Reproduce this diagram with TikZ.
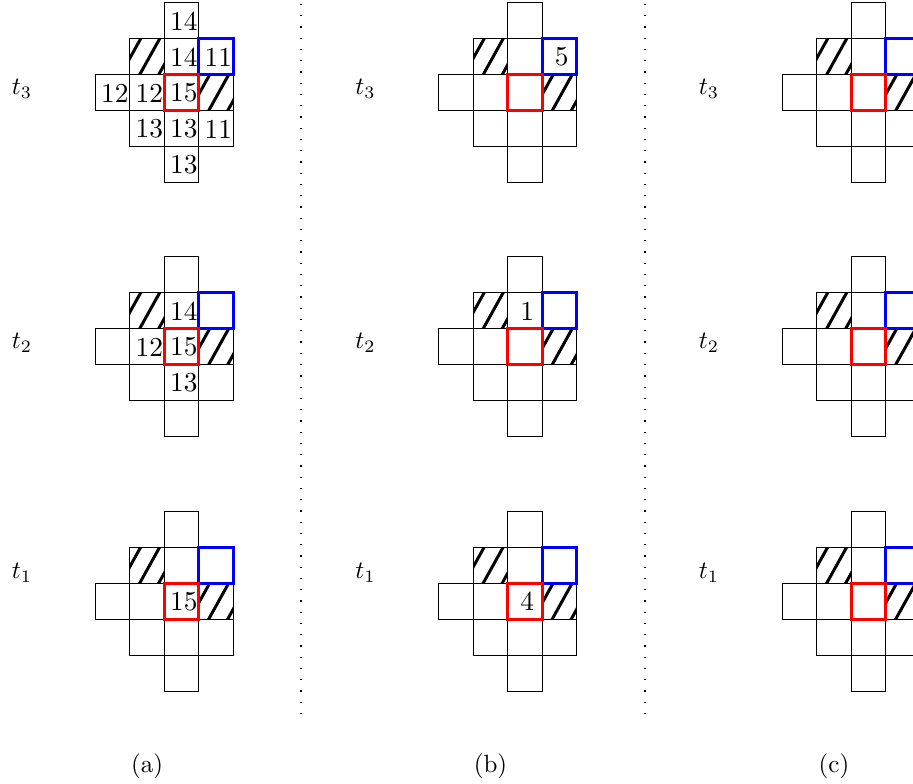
\documentclass[tikz,border=0pt]{standalone}
\usepackage{tikz}
\usetikzlibrary{positioning}
\newcommand{\cellw}{34.5}
\newcommand{\cellh}{36}
% one cross of twelve cells, drawn in local coordinates
\newcommand{\drawcross}{%
  \foreach \c/\r in {1/1,3/2}{
    \begin{scope}
      \clip (\c*\cellw,\r*\cellh) rectangle ++(\cellw,\cellh);
      \foreach \s in {11,30,49}
        \draw[hatch] (\c*\cellw+\s+10,\r*\cellh-18) -- ++(-40,72);
    \end{scope}
  }
  \foreach \c/\r in {2/0,1/1,2/1,3/1,0/2,1/2,2/2,3/2,1/3,2/3,3/3,2/4}
    \draw[cell] (\c*\cellw,\r*\cellh) rectangle ++(\cellw,\cellh);
  \draw[bluecell] (3*\cellw,\cellh) rectangle ++(\cellw,\cellh);
  \draw[redcell] (2*\cellw,2*\cellh) rectangle ++(\cellw,\cellh);
}
\begin{document}
\begin{tikzpicture}[x=0.4pt,y=-0.4pt,
  cell/.style={draw,line width=0.4pt},
  hatch/.style={line width=1.2pt},
  redcell/.style={draw=red,line width=1.2pt},
  bluecell/.style={draw=blue,line width=1.2pt},
  num/.style={inner sep=0pt,xshift=1pt,font=\fontsize{10.95}{13}\selectfont},
  tlab/.style={inner sep=0pt},
  divider/.style={loosely dotted,line width=0.5pt}]
\useasboundingbox (0,0) rectangle (913,784);
\clip (0,0) rectangle (913,784);

% panels (a), (b), (c) with rows t3, t2, t1
\foreach \px/\p in {95/a,438.5/b,782/c}{
  \foreach \py/\t/\ty in {3/3/89,257/2/343,511.5/1/573}{
    \begin{scope}[shift={(\px,\py)}]
      \drawcross
    \end{scope}
    \node[tlab] (t\t-\p) at (\px-73,\ty) {$t_\t$};
  }
  \node (cap-\p) at (\px+52,766) {(\p)};
}

% numbers in panel (a)
\begin{scope}[shift={(95,3)}]
  \foreach \c/\r/\v in {2/0/14,2/1/14,3/1/11,0/2/12,1/2/12,2/2/15,1/3/13,2/3/13,3/3/11,2/4/13}
    \node[num] (a3-\c\r) at (\c*\cellw+17.25,\r*\cellh+18) {\v};
\end{scope}
\begin{scope}[shift={(95,257)}]
  \foreach \c/\r/\v in {2/1/14,1/2/12,2/2/15,2/3/13}
    \node[num] (a2-\c\r) at (\c*\cellw+17.25,\r*\cellh+18) {\v};
\end{scope}
\begin{scope}[shift={(95,511.5)}]
  \node[num] (a1-22) at (2*\cellw+17.25,2*\cellh+18) {15};
\end{scope}

% numbers in panel (b)
\node[num] (b3-31) at (438.5+3*\cellw+17.25,3+\cellh+18) {5};
\node[num] (b2-21) at (438.5+2*\cellw+17.25,257+\cellh+18) {1};
\node[num] (b1-22) at (438.5+2*\cellw+17.25,511.5+2*\cellh+18) {4};

% dividers
\coordinate (d1-top) at (301,4);
\coordinate (d1-bot) at (301,720);
\coordinate (d2-top) at (645,4);
\coordinate (d2-bot) at (645,720);
\draw[divider] (d1-top) -- (d1-bot);
\draw[divider] (d2-top) -- (d2-bot);
\end{tikzpicture}
\end{document}
